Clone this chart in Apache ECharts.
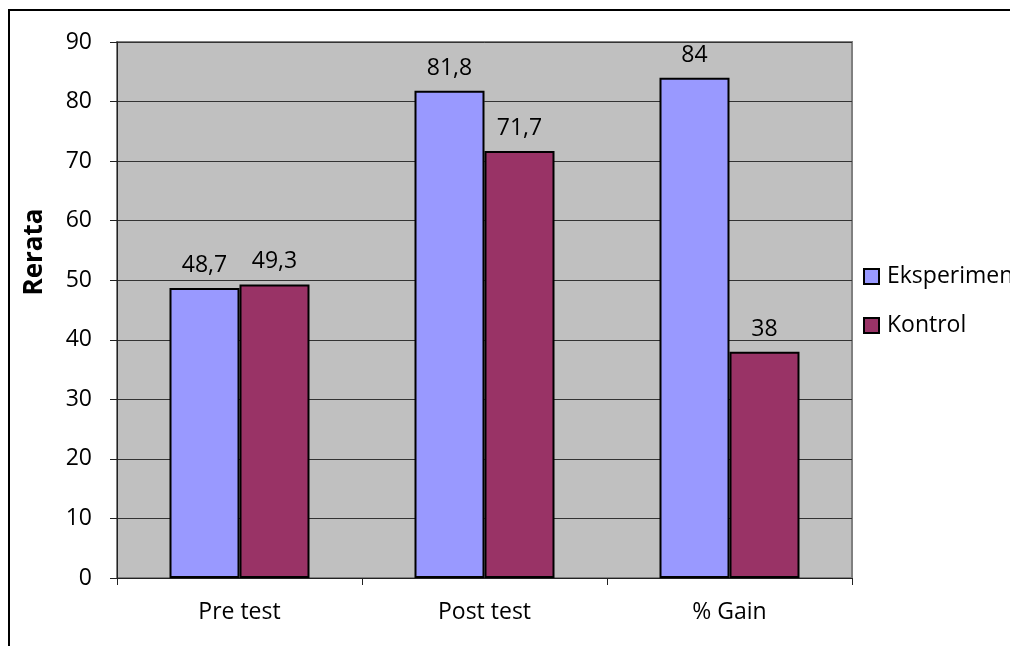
<!DOCTYPE html>
<html>
<head>
<meta charset="utf-8">
<script src="https://cdn.jsdelivr.net/npm/echarts@6/dist/echarts.min.js"></script>
<style>
html,body{margin:0;padding:0;background:#fff;}
#c{width:1010px;height:646px;}
</style>
</head>
<body>
<div id="c"></div>
<script>
var categories = ['Pre test', 'Post test', '% Gain'];
var eksperimen = [48.7, 81.8, 84];
var kontrol = [49.3, 71.7, 38];
var yTicks = {min: 0, max: 90, interval: 10};

var font = '"Open Sans", "Noto Sans", sans-serif';
function fmt(p){ return String(p.value).replace('.', ','); }

var chart = echarts.init(document.getElementById('c'));
chart.setOption({
  backgroundColor: '#fff',
  animation: false,
  textStyle: {fontFamily: font},
  grid: {left: 117, top: 42, width: 735, height: 536, show: true,
         backgroundColor: '#C0C0C0', borderColor: '#808080', borderWidth: 2},
  legend: {
    orient: 'vertical', left: 858, top: 260, itemGap: 26,
    itemWidth: 15, itemHeight: 15, icon: 'rect',
    textStyle: {fontSize: 23, color: '#000', fontFamily: font, padding: [0,0,0,3]},
    data: ['Eksperimen', 'Kontrol']
  },
  xAxis: {
    type: 'category', data: categories,
    axisLine: {lineStyle: {color: '#222', width: 1}},
    axisTick: {show: true, length: 7, lineStyle: {color: '#222'}},
    axisLabel: {fontSize: 23, color: '#000', margin: 23, fontFamily: font}
  },
  yAxis: {
    type: 'value', min: yTicks.min, max: yTicks.max, interval: yTicks.interval,
    axisLine: {show: true, lineStyle: {color: '#222', width: 1}},
    axisTick: {show: true, length: 7, lineStyle: {color: '#222'}},
    axisLabel: {fontSize: 23, color: '#000', margin: 25, fontFamily: font},
    splitLine: {lineStyle: {color: '#333', width: 1}}
  },
  graphic: [
    {type: 'rect', shape: {x: 9, y: 10, width: 1200, height: 800},
     style: {fill: 'none', stroke: '#000', lineWidth: 2}, silent: true},
    {type: 'text', x: 35, y: 252, rotation: Math.PI / 2,
     style: {text: 'Rerata', font: 'bold 26px ' + font, fill: '#000',
             textAlign: 'center', textVerticalAlign: 'middle'}}
  ],
  series: [
    {name: 'Eksperimen', type: 'bar', data: eksperimen, barWidth: 70, barGap: '0%',
     itemStyle: {color: '#9999FF', borderColor: '#000', borderWidth: 2},
     label: {show: true, position: 'top', distance: 11, fontSize: 23, color: '#000',
             fontFamily: font, formatter: fmt}},
    {name: 'Kontrol', type: 'bar', data: kontrol, barWidth: 70, barGap: '0%',
     itemStyle: {color: '#993366', borderColor: '#000', borderWidth: 2},
     label: {show: true, position: 'top', distance: 11, fontSize: 23, color: '#000',
             fontFamily: font, formatter: fmt}}
  ]
});
</script>
</body>
</html>
